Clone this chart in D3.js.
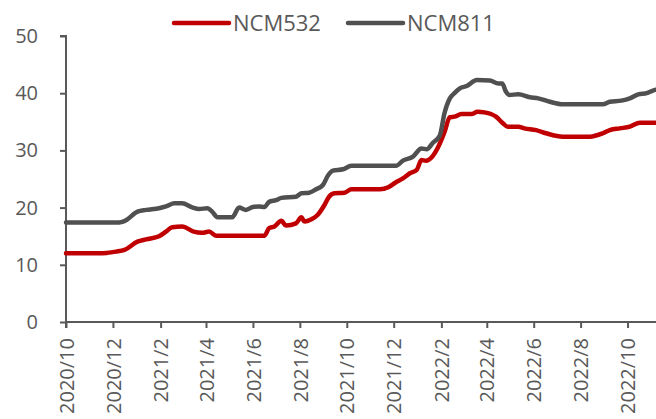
<!DOCTYPE html>
<html>
<head>
<meta charset="utf-8">
<script src="https://cdn.jsdelivr.net/npm/d3@7"></script>
<style>
	html, body { margin: 0; padding: 0; background: #fff; }
	svg { display: block; font-family: "Open Sans", "Noto Sans", sans-serif; }
</style>
</head>
<body>
<svg id="chart" width="656" height="419"></svg>
<script>
(function(){
	'use strict';

	var seriesNames = ['NCM532', 'NCM811'];
	var yTicks = [0, 10, 20, 30, 40, 50];
	var xTickLabels = ['2020/10', '2020/12', '2021/2', '2021/4', '2021/6', '2021/8', '2021/10',
		'2021/12', '2022/2', '2022/4', '2022/6', '2022/8', '2022/10'];

	var ncm532Dates = ['2020-10-01', '2020-11-13', '2020-12-05', '2020-12-16', '2021-01-02', '2021-01-13',
		'2021-01-30', '2021-02-08', '2021-02-16', '2021-03-01', '2021-03-16', '2021-03-27', '2021-04-05',
		'2021-04-14', '2021-06-16', '2021-06-22', '2021-06-29', '2021-07-08', '2021-07-14', '2021-07-27',
		'2021-08-03', '2021-08-07', '2021-08-16', '2021-08-24', '2021-09-02', '2021-09-08', '2021-09-15',
		'2021-09-28', '2021-10-07', '2021-11-13', '2021-11-24', '2021-12-03', '2021-12-13', '2021-12-22',
		'2021-12-31', '2022-01-06', '2022-01-12', '2022-01-20', '2022-01-28', '2022-02-05', '2022-02-12',
		'2022-02-18', '2022-02-27', '2022-03-12', '2022-03-20', '2022-03-29', '2022-04-13', '2022-04-22',
		'2022-04-28', '2022-05-12', '2022-05-20', '2022-06-04', '2022-06-17', '2022-07-09', '2022-08-13',
		'2022-08-30', '2022-09-08', '2022-09-21', '2022-10-04', '2022-10-17', '2022-11-07'];
	var ncm532Values = [12.0, 12.0, 12.3, 12.6, 14.05, 14.45,
		15.0, 15.8, 16.55, 16.7, 15.8, 15.6, 15.8,
		15.1, 15.1, 16.4, 16.7, 17.7, 16.85, 17.25,
		18.3, 17.55, 17.95, 18.7, 20.45, 21.9, 22.5,
		22.6, 23.2, 23.2, 23.55, 24.35, 25.1, 26.0,
		26.6, 28.3, 28.2, 28.9, 30.65, 33.2, 35.8,
		35.9, 36.35, 36.35, 36.75, 36.65, 35.9, 34.75,
		34.15, 34.15, 33.85, 33.55, 33.0, 32.4, 32.4,
		33.0, 33.55, 33.85, 34.15, 34.85, 34.85];

	var ncm811Dates = ['2020-10-01', '2020-12-09', '2020-12-13', '2020-12-18', '2021-01-02', '2021-01-13',
		'2021-01-30', '2021-02-08', '2021-02-19', '2021-03-01', '2021-03-14', '2021-03-23', '2021-04-03',
		'2021-04-09', '2021-04-16', '2021-05-05', '2021-05-14', '2021-05-23', '2021-06-01', '2021-06-09',
		'2021-06-16', '2021-06-22', '2021-07-01', '2021-07-08', '2021-07-27', '2021-08-03', '2021-08-13',
		'2021-08-22', '2021-08-31', '2021-09-07', '2021-09-13', '2021-09-26', '2021-10-07', '2021-12-04',
		'2021-12-13', '2021-12-26', '2022-01-06', '2022-01-13', '2022-01-21', '2022-01-30', '2022-02-05',
		'2022-02-12', '2022-02-18', '2022-02-25', '2022-03-06', '2022-03-19', '2022-04-05', '2022-04-16',
		'2022-04-21', '2022-04-26', '2022-04-30', '2022-05-12', '2022-05-27', '2022-06-07', '2022-06-22',
		'2022-07-09', '2022-08-30', '2022-09-08', '2022-09-23', '2022-10-04', '2022-10-15', '2022-10-26',
		'2022-11-03', '2022-11-07'];
	var ncm811Values = [17.4, 17.4, 17.5, 17.8, 19.3, 19.6,
		19.9, 20.2, 20.75, 20.75, 20.05, 19.75, 19.9,
		19.3, 18.3, 18.3, 20.0, 19.6, 20.1, 20.2,
		20.1, 21.0, 21.3, 21.7, 21.9, 22.5, 22.6,
		23.2, 23.95, 25.7, 26.45, 26.7, 27.3, 27.3,
		28.2, 28.9, 30.35, 30.2, 31.35, 32.6, 36.5,
		39.1, 40.0, 40.85, 41.25, 42.3, 42.2, 41.7,
		41.7, 40.25, 39.7, 39.8, 39.3, 39.1, 38.5,
		38.05, 38.05, 38.5, 38.7, 39.1, 39.8, 40.0,
		40.45, 40.6];

	var colors = { NCM532: '#c00000', NCM811: '#505050' };
	var axisColor = '#595959';
	var textColor = '#595959';

	var parse = d3.timeParse('%Y-%m-%d');
	var margin = { top: 36, right: 0, bottom: 97, left: 66 };
	var width = 656, height = 419;

	var x = d3.scaleTime()
		.domain([parse('2020-10-01'), parse('2022-11-07')])
		.range([margin.left, width - margin.right]);
	var y = d3.scaleLinear()
		.domain([0, 50])
		.range([height - margin.bottom, margin.top]);

	var svg = d3.select('#chart');

	function toPoints(dates, values){
		return dates.map(function(d, i){ return { date: parse(d), value: values[i] }; });
	}

	var series = [
		{ name: 'NCM532', points: toPoints(ncm532Dates, ncm532Values) },
		{ name: 'NCM811', points: toPoints(ncm811Dates, ncm811Values) }
	];

	// y axis
	var yAxis = d3.axisLeft(y).tickValues(yTicks).tickSize(6).tickPadding(22);
	var gy = svg.append('g')
		.attr('transform', 'translate(' + margin.left + ',0)')
		.call(yAxis);

	// x axis, tick every two months
	var xTickDates = xTickLabels.map(function(s){
		var p = s.split('/');
		return new Date(+p[0], +p[1] - 1, 1);
	});
	var xAxis = d3.axisBottom(x).tickValues(xTickDates).tickSize(6).tickFormat(function(d, i){ return xTickLabels[i]; });
	var gx = svg.append('g')
		.attr('transform', 'translate(0,' + y(0) + ')')
		.call(xAxis);

	[gx, gy].forEach(function(g){
		g.select('.domain').attr('stroke', axisColor).attr('stroke-width', 2);
		g.selectAll('.tick line').attr('stroke', axisColor).attr('stroke-width', 2);
		g.selectAll('text').attr('fill', textColor).attr('font-size', '20px')
			.attr('font-family', '"Open Sans", "Noto Sans", sans-serif');
	});
	gy.select('.domain').attr('d', 'M-6,' + y(50) + 'H0V' + y(0));
	gx.select('.domain').attr('d', 'M' + margin.left + ',6V0H' + width);

	gx.selectAll('.tick text')
		.attr('text-anchor', 'end')
		.attr('transform', 'translate(0,16) rotate(-90)')
		.attr('x', 0)
		.attr('y', 0)
		.attr('dy', '0.36em');

	// lines
	var line = d3.line()
		.x(function(d){ return x(d.date); })
		.y(function(d){ return y(d.value); })
		.curve(d3.curveMonotoneX);

	svg.append('g').selectAll('path')
		.data(series)
		.enter().append('path')
		.attr('d', function(d){ return line(d.points); })
		.attr('fill', 'none')
		.attr('stroke', function(d){ return colors[d.name]; })
		.attr('stroke-width', 4.5)
		.attr('stroke-linejoin', 'round')
		.attr('stroke-linecap', 'round');

	// legend
	var legendX = [174, 348];
	var legend = svg.append('g').selectAll('g')
		.data(seriesNames)
		.enter().append('g')
		.attr('transform', function(d, i){ return 'translate(' + legendX[i] + ',23)'; });
	legend.append('line')
		.attr('x1', 0).attr('x2', 55)
		.attr('stroke', function(d){ return colors[d]; })
		.attr('stroke-width', 4.5)
		.attr('stroke-linecap', 'round');
	legend.append('text')
		.attr('x', 59)
		.attr('dy', '0.36em')
		.attr('fill', textColor)
		.attr('font-size', '22px')
		.text(function(d){ return d; });

})();
</script>
</body>
</html>
